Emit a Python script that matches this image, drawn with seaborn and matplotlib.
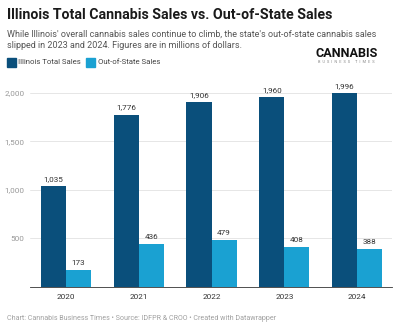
import matplotlib
matplotlib.use("Agg")
import matplotlib.pyplot as plt
import seaborn as sns
import pandas as pd

years = ["2020", "2021", "2022", "2023", "2024"]
illinois_total = [1035, 1776, 1906, 1960, 1996]
out_of_state = [173, 436, 479, 408, 388]
series_names = ["Illinois Total Sales", "Out-of-State Sales"]
yticks = [500, 1000, 1500, 2000]

df = pd.DataFrame({
    "year": years * 2,
    "value": illinois_total + out_of_state,
    "series": [series_names[0]] * len(years) + [series_names[1]] * len(years),
})

sns.set_style("white")
plt.rcParams["font.family"] = ["Roboto", "DejaVu Sans"]

colors = ["#0a4f7b", "#1aa1d2"]
W, H = 400, 329
fig = plt.figure(figsize=(W / 100, H / 100), dpi=100)
ax = fig.add_axes([30 / W, 1 - 286.7 / H, (392 - 30) / W, (286.7 - 93) / H])

sns.barplot(data=df, x="year", y="value", hue="series", palette=colors,
            width=0.69, gap=0, dodge=True, saturation=1, ax=ax, legend=False,
            linewidth=0, edgecolor="none")

for cont in ax.containers:
    for bar in cont:
        h = bar.get_height()
        ax.annotate(f"{h:,.0f}", (bar.get_x() + bar.get_width() / 2, h),
                    xytext=(0, 3), textcoords="offset points",
                    ha="center", va="bottom", fontsize=5.9, color="#333333",
                    annotation_clip=False)

ax.set_xlim(-0.495, 4.48)
ax.set_ylim(0, 2000)
ax.set_yticks(yticks)
ax.set_yticklabels([f"{v:,}" for v in yticks])
ax.yaxis.grid(True, color="#e6e6e6", linewidth=0.7)
ax.set_axisbelow(True)
ax.set_xlabel("")
ax.set_ylabel("")
for s in ["top", "right", "left"]:
    ax.spines[s].set_visible(False)
ax.spines["bottom"].set_color("#333333")
ax.spines["bottom"].set_linewidth(0.6)
ax.tick_params(axis="y", length=0, pad=4, labelsize=5.9, labelcolor="#999999")
ax.tick_params(axis="x", length=0, pad=5, labelsize=5.9, labelcolor="#333333")

# Title and subtitle
fig.text(7 / W, 1 - 15 / H, "Illinois Total Cannabis Sales vs. Out-of-State Sales",
         fontsize=10.2, fontweight="bold", color="#1a1a1a", va="center", ha="left")
fig.text(7 / W, 1 - 34 / H,
         "While Illinois' overall cannabis sales continue to climb, the state's out-of-state cannabis sales",
         fontsize=6.5, color="#555555", va="center", ha="left")
fig.text(7 / W, 1 - 46 / H,
         "slipped in 2023 and 2024. Figures are in millions of dollars.",
         fontsize=6.5, color="#555555", va="center", ha="left")

# Legend
from matplotlib.patches import Rectangle
lx = [7, 86]
for i, name in enumerate(series_names):
    fig.patches.append(Rectangle((lx[i] / W, 1 - 67 / H), 9 / W, 9 / H,
                                 transform=fig.transFigure, color=colors[i]))
    fig.text((lx[i] + 11.5) / W, 1 - 62.5 / H, name, fontsize=5.6,
             color="#444444", va="center", ha="left")

# Logo
fig.text(346.5 / W, 1 - 53.5 / H, "CANNABIS", fontsize=9.1, fontweight="bold",
         color="#111111", va="center", ha="center", fontstretch="condensed")
fig.text(346.5 / W, 1 - 62 / H, "B  U  S  I  N  E  S  S     T  I  M  E  S", fontsize=2.8,
         color="#888888", va="center", ha="center")

# Footer
fig.text(7 / W, 1 - 318 / H,
         "Chart: Cannabis Business Times \u2022 Source: IDFPR & CROO \u2022 Created with Datawrapper",
         fontsize=5.1, color="#a0a0a0", va="center", ha="left")

fig.savefig("out.png", dpi=100, facecolor="white")
